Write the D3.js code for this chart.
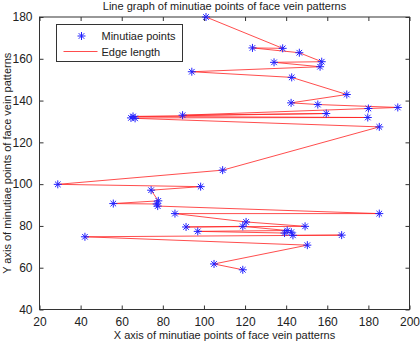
<!DOCTYPE html>
<html>
<head>
<meta charset="utf-8">
<script src="https://cdn.jsdelivr.net/npm/d3@7"></script>
<style>
  body { margin: 0; background: #fff; }
  text { font-family: "Liberation Sans", Arial, sans-serif; }
</style>
</head>
<body>
<div id="chart"></div>
<script>
// Minutiae points in drawing order
const xValues = [101, 138.3, 123.6, 146.4, 157.3, 134.1, 156.5, 94.1, 142.7, 169.5,
    142.4, 155.4, 194.3, 180, 89.6, 159.5, 65.5, 179.7, 64.5, 66.5,
    185.3, 109.1, 28.9, 98.4, 74.3, 77.8, 55.9, 77, 77.5, 185.3,
    85.9, 120.5, 149.2, 91.3, 118.9, 140.5, 97, 139.2, 142.5, 143.3,
    167, 42.1, 150.3, 104.9, 118.9];
const yValues = [180, 165, 165.2, 162.9, 158.6, 158.3, 156.2, 153.8, 151.1, 142.9,
    138.9, 138.1, 136.7, 136.2, 133, 133.8, 132.4, 131.9, 131.7, 131.5,
    127.4, 106.7, 99.9, 98.8, 97.1, 92, 90.7, 90.5, 89.5, 85.9,
    85.9, 81.9, 79.8, 79.5, 79.8, 77.8, 77.4, 76.6, 77, 75.5,
    75.6, 74.8, 70.8, 61.8, 59];
const xTicks = [20, 40, 60, 80, 100, 120, 140, 160, 180, 200];
const yTicks = [40, 60, 80, 100, 120, 140, 160, 180];
const seriesNames = ["Minutiae points", "Edge length"];

function createMinutiaeChart() {
    const W = 420, H = 341;
    const margin = {top: 17, right: 10.5, bottom: 31.5, left: 39.5},
        width = W - margin.left - margin.right,
        height = H - margin.top - margin.bottom;

    const svg = d3.select("#chart").append("svg")
        .attr("width", W)
        .attr("height", H);

    const g = svg.append("g")
        .attr("transform", `translate(${margin.left},${margin.top})`);

    const x = d3.scaleLinear().domain([20, 200]).range([0, width]);
    const y = d3.scaleLinear().domain([40, 180]).range([height, 0]);

    const points = xValues.map((v, i) => ({x: v, y: yValues[i]}));

    // ticks point inwards on all four sides, like matlab
    const tl = 4;
    g.append("g")
        .attr("transform", `translate(0,${height})`)
        .call(d3.axisBottom(x).tickValues(xTicks).tickSizeInner(-tl).tickSizeOuter(0).tickPadding(8))
        .call(a => a.select(".domain").remove());
    g.append("g")
        .call(d3.axisTop(x).tickValues(xTicks).tickSizeInner(-tl).tickSizeOuter(0).tickFormat(""))
        .call(a => a.select(".domain").remove());
    g.append("g")
        .call(d3.axisLeft(y).tickValues(yTicks).tickSizeInner(-tl).tickSizeOuter(0).tickPadding(7))
        .call(a => a.select(".domain").remove());
    g.append("g")
        .attr("transform", `translate(${width},0)`)
        .call(d3.axisRight(y).tickValues(yTicks).tickSizeInner(-tl).tickSizeOuter(0).tickFormat(""))
        .call(a => a.select(".domain").remove());

    g.selectAll(".tick line").attr("stroke", "#333");
    g.selectAll(".tick text").attr("font-size", 12).attr("fill", "#222")
        .attr("font-family", "Liberation Sans, Arial, sans-serif");

    g.append("rect")
        .attr("width", width).attr("height", height)
        .attr("fill", "none").attr("stroke", "#333").attr("stroke-width", 1);

    // edge line
    const line = d3.line().x(d => x(d.x)).y(d => y(d.y));
    g.append("path")
        .datum(points)
        .attr("d", line)
        .attr("fill", "none")
        .attr("stroke", "#ff2020")
        .attr("stroke-width", 0.8);

    // asterisk markers
    const star = (r) => `M${-r},0L${r},0M0,${-r}L0,${r}M${-r * 0.7},${-r * 0.7}L${r * 0.7},${r * 0.7}M${-r * 0.7},${r * 0.7}L${r * 0.7},${-r * 0.7}`;
    g.selectAll(".pt")
        .data(points)
        .enter()
        .append("path")
        .attr("class", "pt")
        .attr("transform", d => `translate(${x(d.x)},${y(d.y)})`)
        .attr("d", star(4))
        .attr("fill", "none")
        .attr("stroke", "#2020ff")
        .attr("stroke-width", 1);

    // legend
    const lg = svg.append("g").attr("transform", "translate(56.5,24.5)");
    lg.append("rect").attr("width", 126).attr("height", 37)
        .attr("fill", "#fff").attr("stroke", "#333");
    lg.append("path").attr("transform", "translate(25,11.5)")
        .attr("d", star(4)).attr("fill", "none").attr("stroke", "#2020ff");
    lg.append("line").attr("x1", 7).attr("x2", 41).attr("y1", 27).attr("y2", 27)
        .attr("stroke", "#ff2020").attr("stroke-width", 0.8);
    lg.selectAll(".lt").data(seriesNames).enter().append("text")
        .attr("x", 45).attr("y", (d, i) => 15.5 + i * 16)
        .attr("font-size", 11).attr("fill", "#222")
        .text(d => d);

    // title and axis labels
    svg.append("text")
        .attr("x", margin.left + width / 2).attr("y", 10)
        .attr("text-anchor", "middle").attr("font-size", 11).attr("fill", "#222")
        .text("Line graph of minutiae points of face vein patterns");
    svg.append("text")
        .attr("x", margin.left + width / 2).attr("y", 339)
        .attr("text-anchor", "middle").attr("font-size", 11).attr("fill", "#222")
        .text("X axis of minutiae points of face vein patterns");
    svg.append("text")
        .attr("transform", `translate(11,${margin.top + height / 2}) rotate(-90)`)
        .attr("text-anchor", "middle").attr("font-size", 11).attr("fill", "#222")
        .text("Y axis of minutiae points of face vein patterns");
}

createMinutiaeChart();
</script>
</body>
</html>
